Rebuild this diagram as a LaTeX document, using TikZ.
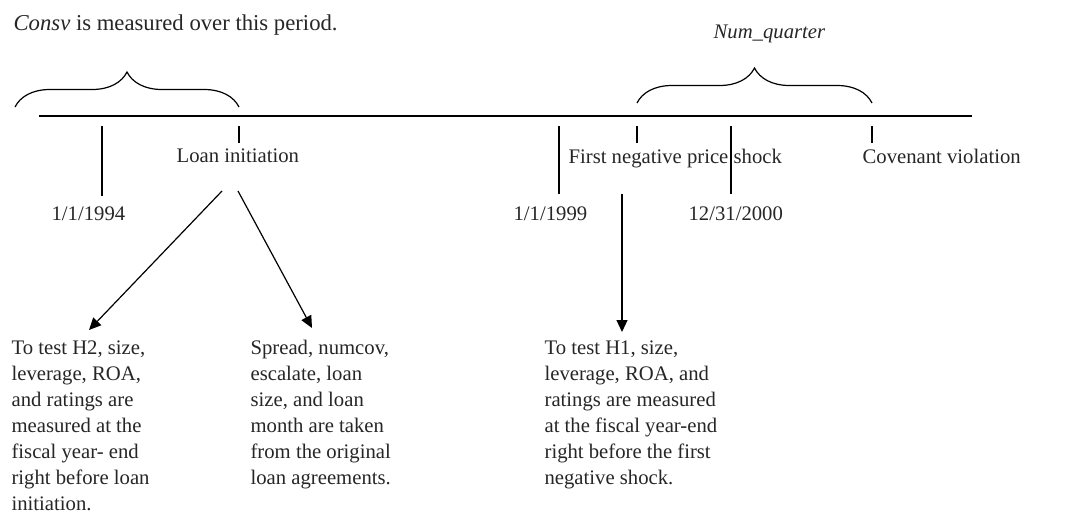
\documentclass[tikz,border=0pt]{standalone}
\usepackage{fontspec}
\setmainfont{Liberation Serif}
\usetikzlibrary{arrows.meta,decorations.pathreplacing}

\tikzset{
    label text/.style={anchor=base west, inner sep=0pt, text=black!85,
        font=\fontsize{10.35}{13}\selectfont},
    note text/.style={anchor=north west, inner sep=0pt, align=left, text=black!85,
        font=\fontsize{10.35}{13}\selectfont},
    period brace/.style={decorate, decoration={brace, amplitude=17.5pt, aspect=0.5}},
    pointer/.style={-{Triangle[length=6pt,width=5.5pt]}}
}

\begin{document}
\begin{tikzpicture}[x=0.5pt,y=-0.5pt,line width=0.6pt]
    % picture measured in pixels of the 1075 x 514 reference
    \useasboundingbox (0,0) rectangle (1075,514);

    % time line and ticks
    \draw (39,116) -- (972,116);
    \foreach \x/\bottom in {102/196, 239/143, 559/194, 637/143, 731/194, 872/143}
        \draw (\x,126) -- (\x,\bottom);

    % periods
    \draw[period brace] (15,107) -- (239,107);
    \draw[period brace] (637,103) -- (872,103);
    \node[label text, font=\fontsize{11.35}{13}\selectfont] (consv) at (13,31) {\textit{Consv} is measured over this period.};
    \node[label text] (numq) at (713,38) {\textit{Num\_quarter}};

    % events and dates
    \node[label text] (loan) at (176,162) {Loan initiation};
    \node[label text] (shock) at (568,163) {First negative price shock};
    \node[label text] (cov) at (862,163) {Covenant violation};
    \node[label text] (d1994) at (51,220) {1/1/1994};
    \node[label text] (d1999) at (513,220) {1/1/1999};
    \node[label text] (d2000) at (688,220) {12/31/2000};

    % where the variables come from
    \node[note text] (h2) at (11,340) {To test H2, size,\\ leverage, ROA,\\ and ratings are\\ measured at the\\ fiscal year- end\\ right before loan\\ initiation.};
    \node[note text] (data) at (250,340) {Spread, numcov,\\ escalate, loan\\ size, and loan\\ month are taken\\ from the original\\ loan agreements.};
    \node[note text] (h1) at (544,340) {To test H1, size,\\ leverage, ROA, and\\ ratings are measured\\ at the fiscal year-end\\ right before the first\\ negative shock.};

    \coordinate (loan-l) at (222,191);
    \coordinate (loan-r) at (238,191);
    \coordinate (h2-top) at (89,330);
    \coordinate (data-top) at (312,328);
    \coordinate (shock-a) at (622,194);
    \coordinate (h1-top) at (622,332);
    \draw[pointer] (loan-l) -- (h2-top);
    \draw[pointer] (loan-r) -- (data-top);
    \draw[pointer] (shock-a) -- (h1-top);
\end{tikzpicture}
\end{document}
